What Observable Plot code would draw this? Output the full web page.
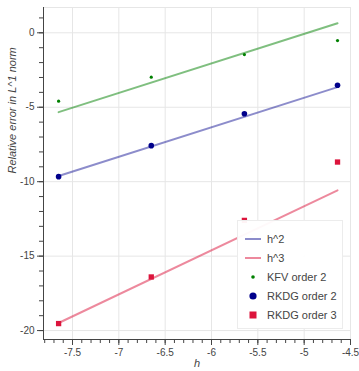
<!DOCTYPE html>
<html>
<head>
<meta charset="utf-8">
<script src="https://cdn.jsdelivr.net/npm/d3@7"></script>
<script src="https://cdn.jsdelivr.net/npm/@observablehq/plot@0.6"></script>
<style>
  body { margin: 0; background: white; }
  #wrap { position: relative; width: 359px; height: 371px; overflow: hidden; }
  #legend { position: absolute; left: 237px; top: 220px; width: 106px; height: 109px;
    background: rgba(255,255,255,0.95); border: 1px solid #ececec; box-sizing: border-box;
    font-family: "Liberation Sans", Arial, sans-serif; font-size: 11px; color: #444; }
  .row { position: absolute; left: 0; height: 16px; display: flex; align-items: center; }
  .row svg { position: absolute; left: 6px; }
  .row span { position: absolute; left: 29px; white-space: nowrap; line-height: 16px; }
</style>
</head>
<body>
<div id="wrap"></div>
<script>
// Data (log2 h vs log error)
const h = [-7.65, -6.65, -5.645, -4.64];
const kfv2 = [-4.59, -2.98, -1.46, -0.52];
const rkdg2 = [-9.66, -7.58, -5.44, -3.52];
const rkdg3 = [-19.53, -16.40, -12.6, -8.68];
const lineX = [-7.65, -4.64];
const fitKfv = [-5.33, 0.64];
const fitH2 = [-9.62, -3.65];
const fitH3 = [-19.49, -10.58];
const xTicks = [-7.5, -7, -6.5, -6, -5.5, -5, -4.5];
const yTicks = [0, -5, -10, -15, -20];
const legendLabels = ["h^2", "h^3", "KFV order 2", "RKDG order 2", "RKDG order 3"];
const xLabel = "h";
const yLabel = "Relative error in L^1 norm";

const xDomain = [-7.813, -4.5];
const yDomain = [-20.6, 1.7];
const xMinor = d3.range(-78, -44, 1).map(v => v / 10);
const yMinor = d3.range(-20, 2, 1);

const pts = (ys) => h.map((x, i) => ({x, y: ys[i]}));
const ln = (ys) => lineX.map((x, i) => ({x, y: ys[i]}));

const chart = Plot.plot({
  width: 359, height: 371,
  marginLeft: 43, marginRight: 9, marginTop: 7, marginBottom: 32,
  x: {domain: xDomain},
  y: {domain: yDomain},
  style: {fontFamily: "'Liberation Sans', Arial, sans-serif", fontSize: "10px", color: "#444", background: "white", overflow: "visible"},
  marks: [
    Plot.gridX(xTicks, {stroke: "#e6e6e6", strokeOpacity: 1}),
    Plot.gridY(yTicks, {stroke: "#e6e6e6", strokeOpacity: 1}),
    Plot.frame({stroke: "#e6e6e6"}),
    Plot.line(ln(fitKfv), {x: "x", y: "y", stroke: "green", strokeOpacity: 0.5, strokeWidth: 2}),
    Plot.line(ln(fitH2), {x: "x", y: "y", stroke: "darkblue", strokeOpacity: 0.45, strokeWidth: 2}),
    Plot.line(ln(fitH3), {x: "x", y: "y", stroke: "crimson", strokeOpacity: 0.5, strokeWidth: 2}),
    Plot.dot(pts(kfv2), {x: "x", y: "y", r: 1.6, fill: "green"}),
    Plot.dot(pts(rkdg2), {x: "x", y: "y", r: 2.8, fill: "darkblue"}),
    Plot.dot(pts(rkdg3), {x: "x", y: "y", r: 3, symbol: "square", fill: "crimson"}),
    Plot.ruleX([xDomain[0]], {stroke: "#444"}),
    Plot.ruleY([yDomain[0]], {stroke: "#444"}),
    Plot.axisX(xMinor, {tickSize: 4, tickFormat: () => "", label: null}),
    Plot.axisX(xTicks, {tickSize: 6, tickPadding: 3, tickFormat: d => String(d), label: null}),
    Plot.axisY(yMinor, {tickSize: 4, tickFormat: () => "", label: null}),
    Plot.axisY(yTicks, {tickSize: 6, tickPadding: 3, tickFormat: d => String(d), label: null}),
    Plot.text([xLabel], {frameAnchor: "bottom", dy: 27, fontStyle: "italic", fontSize: 11, fill: "#444"}),
    Plot.text([yLabel], {frameAnchor: "left", dx: -31, rotate: -90, fontStyle: "italic", fontSize: 11, fill: "#444"})
  ]
});
const wrap = document.getElementById("wrap");
wrap.appendChild(chart);

// Legend overlay
const legend = document.createElement("div");
legend.id = "legend";
const glyphs = [
  '<svg width="18" height="16"><line x1="1" y1="8" x2="17" y2="8" stroke="darkblue" stroke-opacity="0.45" stroke-width="2"/></svg>',
  '<svg width="18" height="16"><line x1="1" y1="8" x2="17" y2="8" stroke="crimson" stroke-opacity="0.5" stroke-width="2"/></svg>',
  '<svg width="18" height="16"><circle cx="9" cy="8" r="1.8" fill="green"/></svg>',
  '<svg width="18" height="16"><circle cx="9" cy="8" r="3.6" fill="darkblue"/></svg>',
  '<svg width="18" height="16"><rect x="5.5" y="4.5" width="7" height="7" fill="crimson"/></svg>'
];
const rowTops = [10, 29, 48, 67, 86];
legendLabels.forEach((lab, i) => {
  const r = document.createElement("div");
  r.className = "row";
  r.style.top = rowTops[i] + "px";
  r.innerHTML = glyphs[i] + "<span>" + lab + "</span>";
  legend.appendChild(r);
});
wrap.appendChild(legend);
</script>
</body>
</html>
